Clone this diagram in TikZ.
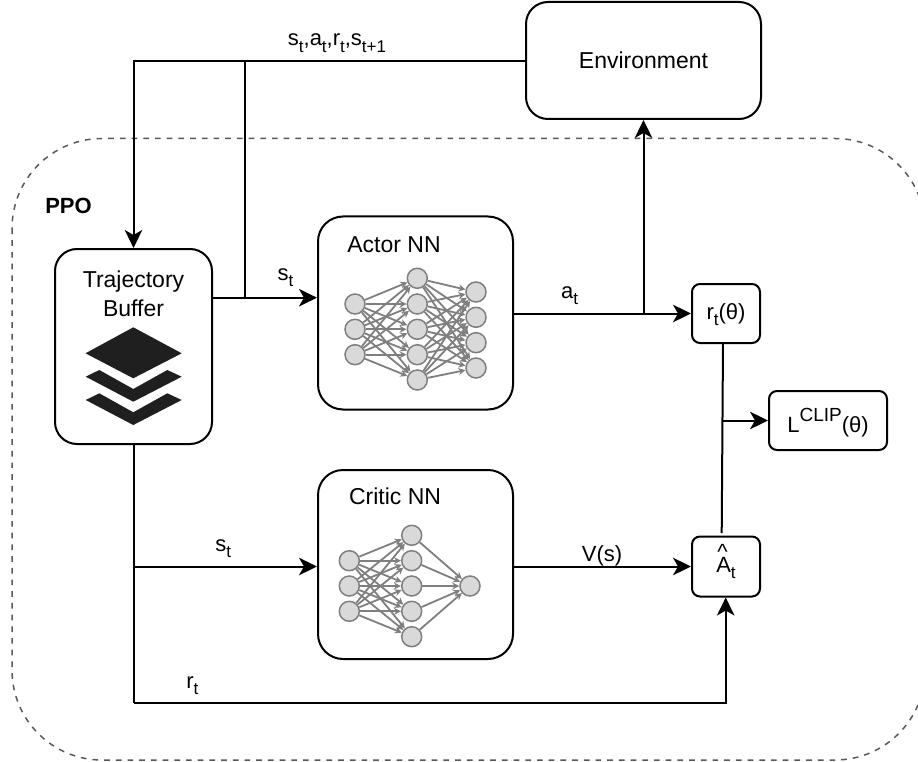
\documentclass[tikz,border=0pt]{standalone}
\usepackage{fontspec}
\setmainfont{Liberation Sans}
\usetikzlibrary{arrows.meta}
\usetikzlibrary{calc}
\definecolor{nngray}{HTML}{7F7F7F}
\definecolor{nnfill}{HTML}{D9D9D9}
\definecolor{stackblack}{HTML}{1F1F1F}
\newcommand{\lsub}[1]{\raisebox{-6.2pt}{\fontsize{17}{17}\selectfont #1}}
\newcommand{\lsup}[1]{\raisebox{10.6pt}{\fontsize{19}{19}\selectfont #1}}
\newcommand{\lhat}[1]{\makebox[0pt][l]{\hspace{1pt}\raisebox{13.2pt}{\textasciicircum}}#1}
\tikzset{
  box/.style={draw,line width=2pt,rounded corners=#1,inner sep=0pt},
  box/.default=8pt,
  lbl/.style={inner sep=0pt,font=\fontsize{22}{29}\selectfont,align=center},
  boxlbl/.style={inner sep=0pt,font=\fontsize{23}{29}\selectfont,align=center},
  edgelbl/.style={lbl,anchor=base},
  fixbase/.style={text height=#1,text depth=0pt},
  flow/.style={line width=2pt,-{Stealth[length=18pt,width=17.5pt,inset=5pt]}},
  wire/.style={line width=2pt},
  neuron/.style={circle,draw=nngray,fill=nnfill,line width=1.5pt,minimum size=20pt,inner sep=0pt},
  synapse/.style={draw=nngray,line width=1.8pt,-{Stealth[length=7pt,width=7pt]}}
}

\begin{document}
\begin{tikzpicture}[x=1pt,y=-1pt]
\useasboundingbox (0,0) rectangle (918,762);

% dashed PPO region
\draw[dash pattern=on 5.7pt off 6pt,line width=1.5pt,draw=black!65,rounded corners=90pt] (12,138.5) rectangle (925,760);
\node[lbl,font=\bfseries\fontsize{22}{28}\selectfont] (ppo) at (68.5,206) {PPO};

% boxes
\node[box=22pt,minimum width=235pt,minimum height=117pt,boxlbl] (env) at (643.5,60.5) {Environment};
\node[box=22pt,minimum width=157pt,minimum height=195pt] (buffer) at (133.5,346.5) {};
\node[box=25pt,minimum width=195pt,minimum height=193pt] (actor) at (415.5,313) {};
\node[box=25pt,minimum width=195pt,minimum height=189pt] (critic) at (415.5,564.5) {};
\node[box,minimum width=68pt,minimum height=59pt,lbl,fixbase=11.6pt] (ratio) at (726,313.5) {r\lsub{t}(θ)};
\node[box,minimum width=68pt,minimum height=60pt,lbl,fixbase=11.6pt] (adv) at (726,566.5) {\lhat{A}\lsub{t}};
\node[box,minimum width=118pt,minimum height=59pt,lbl,fixbase=23.6pt] (loss) at (828,420.5) {L\lsup{CLIP}(θ)};

\node[boxlbl] (buffertxt) at (133.5,294) {Trajectory\\Buffer};
\node[boxlbl,anchor=base] (actortxt) at (394,252.7) {Actor NN};
\node[boxlbl,anchor=base] (critictxt) at (395,504.3) {Critic NN};

% stack icon
\fill[stackblack] (133.3,327.3) -- (181.7,353.3) -- (133.3,378.3) -- (85.5,353.3) -- cycle;
\foreach \dy in {0,23.3} {
  \fill[stackblack] (85.7,376.7+\dy) -- (99.3,370+\dy) -- (133.3,389+\dy) -- (167.3,370+\dy) -- (181.7,376.7+\dy) -- (133.3,401.7+\dy) -- cycle;
}

% actor network
\foreach \i/\y in {1/304,2/329.3,3/354.7}
  \node[neuron] (ai\i) at (355,\y) {};
\foreach \i/\y in {1/278.3,2/304,3/329.3,4/354.7,5/380}
  \node[neuron] (ah\i) at (417.3,\y) {};
\foreach \i/\y in {1/292,2/317.3,3/342.7,4/368}
  \node[neuron] (ao\i) at (476,\y) {};
\foreach \i in {1,...,3} {
  \foreach \j in {1,...,5} {
    \draw[synapse] (ai\i) -- (ah\j);
  }
}
\foreach \i in {1,...,5} {
  \foreach \j in {1,...,4} {
    \draw[synapse] (ah\i) -- (ao\j);
  }
}

% critic network
\foreach \i/\y in {1/560.7,2/586,3/611.3}
  \node[neuron] (ci\i) at (349.3,\y) {};
\foreach \i/\y in {1/535.3,2/560.7,3/586,4/611.3,5/636.7}
  \node[neuron] (ch\i) at (411.7,\y) {};
\node[neuron] (co) at (470,586) {};
\foreach \i in {1,...,3} {
  \foreach \j in {1,...,5} {
    \draw[synapse] (ci\i) -- (ch\j);
  }
}
\foreach \i in {1,...,5} {
  \draw[synapse] (ch\i) -- (co);
}

% junctions
\coordinate (envjoin) at (244.5,60.7);
\coordinate (bufjoin) at (244.5,297.7);
\coordinate (bufout) at (buffer.east |- bufjoin);
\coordinate (actin) at (actor.west |- bufjoin);
\coordinate (envleft) at (env.west |- envjoin);
\coordinate (envcorner) at (buffer.north |- envjoin);
\coordinate (critjoin) at (buffer.south |- adv.west);
\coordinate (critin) at (critic.west |- adv.west);
\coordinate (critout) at (critic.east |- adv.west);
\coordinate (bottomleft) at (133.5,702.7);
\coordinate (bottomright) at (725.7,702.7);
\coordinate (advbot) at (bottomright |- adv.south);
\coordinate (actout) at (actor.east |- ratio.west);
\coordinate (envjoinb) at (643.5,313.5);
\coordinate (ratiobot) at (723,343);
\coordinate (advtop) at (721.7,533);
\coordinate (lossjoin) at (722.6,420.5);

% connectors
\draw[flow] (envleft) -- (envcorner) -- (buffer.north);
\draw[wire] (envjoin) -- (bufjoin);
\draw[flow] (bufout) -- (actin);
\draw[wire] (buffer.south) -- (bottomleft);
\draw[flow] (critjoin) -- (critin);
\draw[flow] (bottomleft) -- (bottomright) -- (advbot);
\draw[flow] (actout) -- (ratio.west);
\draw[flow] (envjoinb) -- (env.south);
\draw[flow] (critout) -- (adv.west);
\draw[wire] (ratiobot) -- (advtop);
\draw[flow] (lossjoin) -- (loss.west);

% connector labels
\node[edgelbl] (toplbl) at (337,46) {s\lsub{t},a\lsub{t},r\lsub{t},s\lsub{t+1}};
\node[edgelbl] (stactor) at (285.5,280) {s\lsub{t}};
\node[edgelbl] (atlbl) at (569.5,298.3) {a\lsub{t}};
\node[edgelbl] (stcritic) at (223.3,551.7) {s\lsub{t}};
\node[edgelbl] (vlbl) at (602,561) {V(s)};
\node[edgelbl] (rtlbl) at (192.3,688) {r\lsub{t}};
\end{tikzpicture}
\end{document}
